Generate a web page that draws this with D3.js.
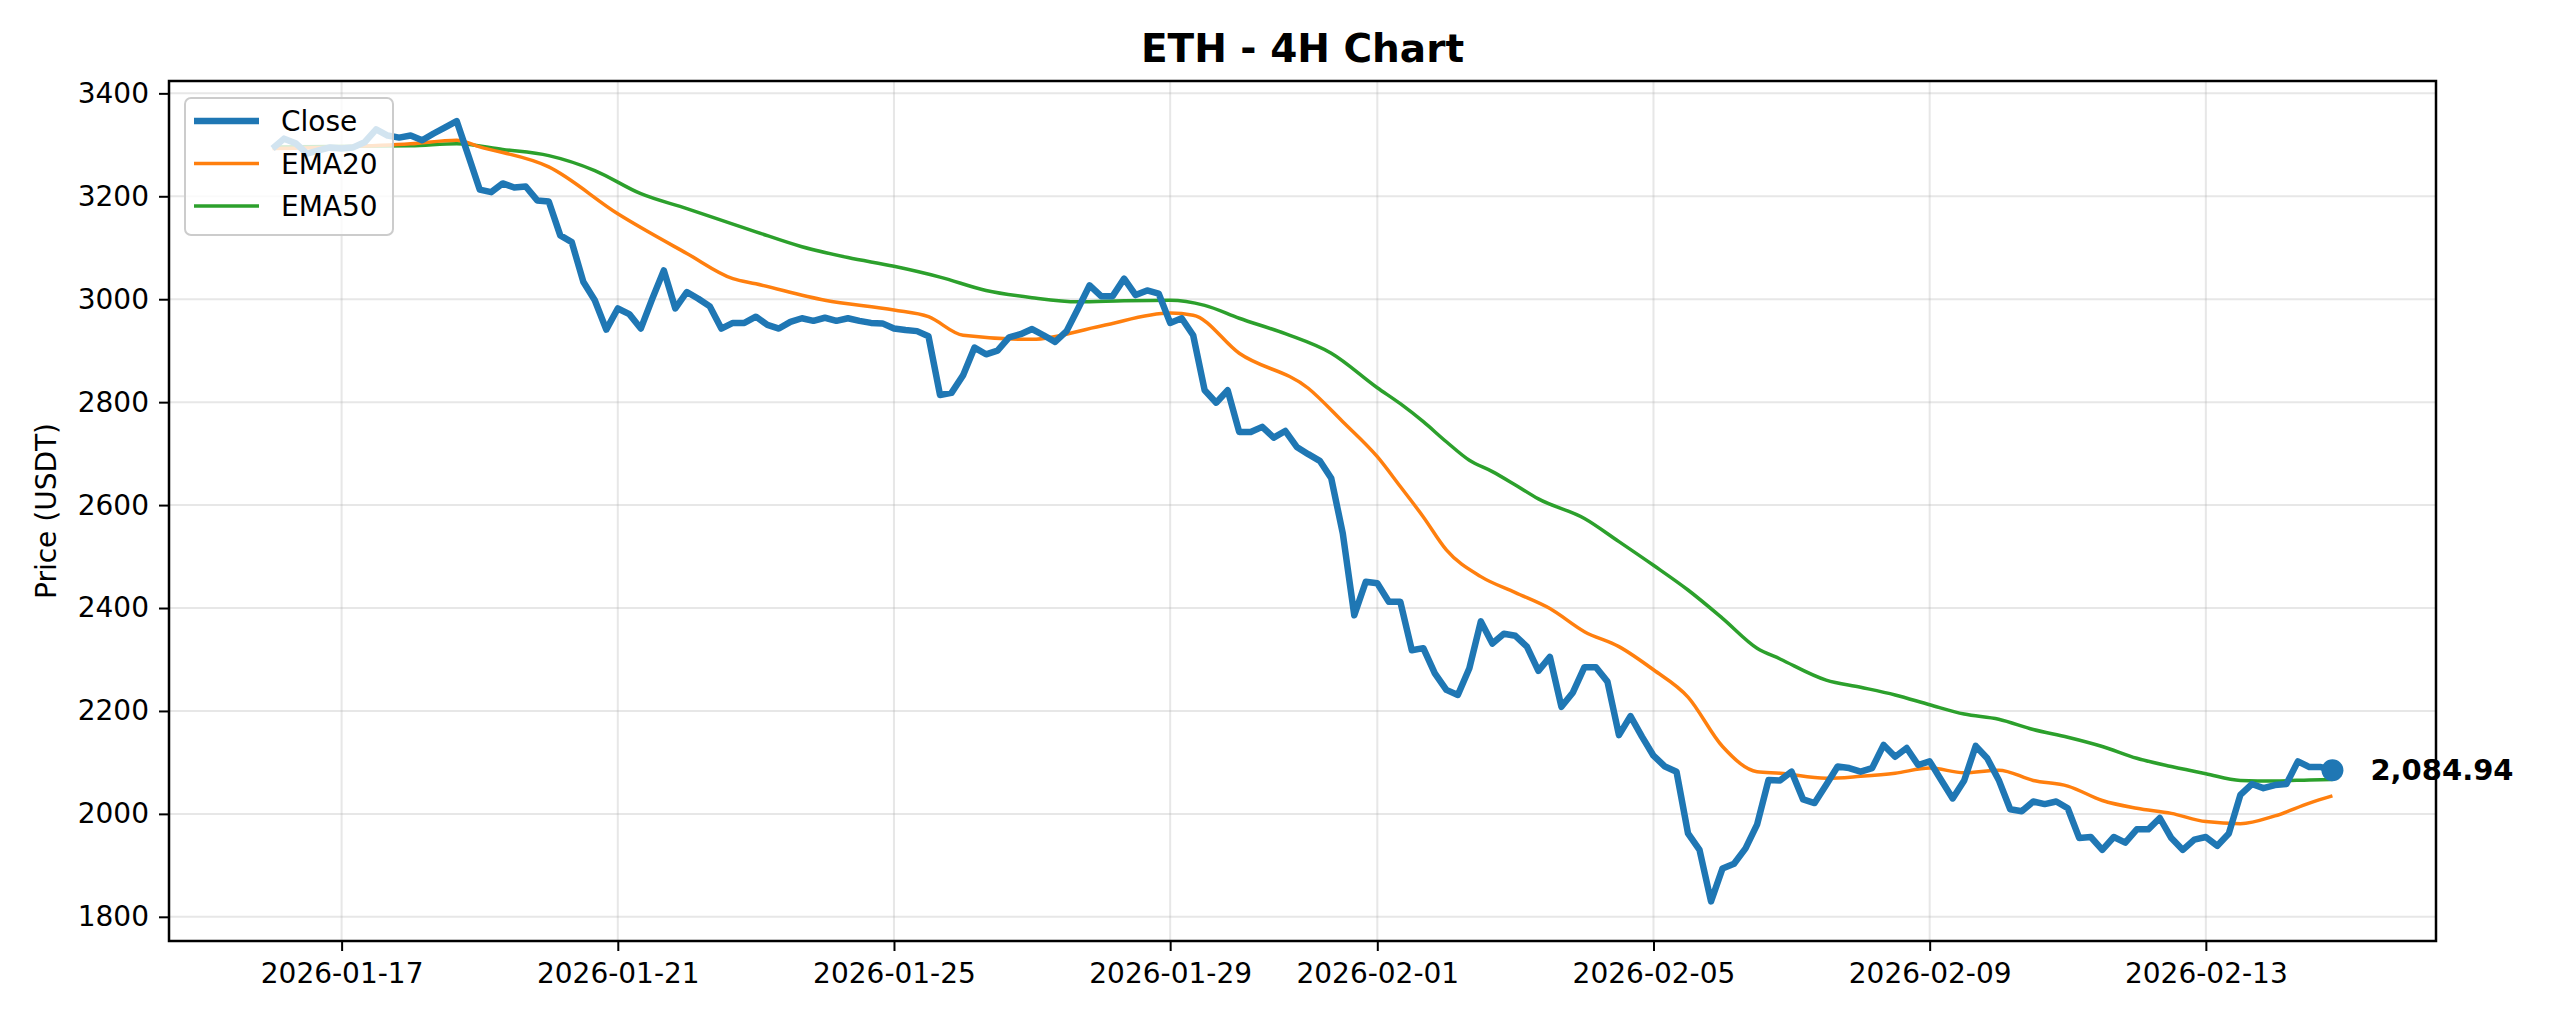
<!DOCTYPE html>
<html>
<head>
<meta charset="utf-8">
<script src="https://cdn.jsdelivr.net/npm/d3@7"></script>
<style>
  body { margin: 0; background: #fff; }
  text { font-family: "DejaVu Sans", sans-serif; }
</style>
</head>
<body>
<div id="viz"></div>
<script>
// 4H closes, first bar 2026-01-16 00:00 UTC
const startTime = Date.UTC(2026, 0, 16, 0)
const stepHours = 4

const closes = [
  3293, 3312, 3303, 3283, 3289, 3295, 3293, 3295, 3305, 3330,
  3318, 3314, 3318, 3309, 3322, 3334, 3346, 3280, 3213, 3208,
  3225, 3217, 3219, 3192, 3190, 3124, 3111, 3034, 2998, 2941,
  2982, 2971, 2943, 3001, 3056, 2982, 3014, 3001, 2986, 2943,
  2954, 2954, 2966, 2950, 2943, 2956, 2963, 2958, 2964, 2958,
  2963, 2958, 2954, 2953, 2943, 2940, 2938, 2928, 2814, 2818,
  2852, 2906, 2893, 2900, 2926, 2932, 2942, 2930, 2917, 2938,
  2982, 3027, 3006, 3006, 3040, 3008, 3017, 3011, 2954, 2963,
  2930, 2823, 2799, 2823, 2742, 2742, 2752, 2731, 2744, 2713,
  2699, 2686, 2652, 2545, 2386, 2451, 2448, 2412, 2412, 2318,
  2322, 2273, 2241, 2231, 2283, 2374, 2331, 2350, 2346, 2325,
  2278, 2305, 2208, 2236, 2285, 2285, 2257, 2153, 2190, 2150,
  2113, 2092, 2082, 1962, 1930, 1830, 1894, 1903, 1933, 1979,
  2066, 2065, 2082, 2028, 2021, 2056, 2092, 2089, 2082, 2089,
  2134, 2111, 2128, 2095, 2102, 2066, 2030, 2065, 2132, 2108,
  2066, 2009, 2005, 2024, 2019, 2024, 2011, 1953, 1955, 1930,
  1955, 1944, 1970, 1970, 1992, 1953, 1930, 1950, 1955, 1938,
  1962, 2037, 2058, 2050, 2056, 2058, 2102, 2091, 2091, 2084.94
]

// [bar index, value]
const ema20 = [
  [0, 3293], [6, 3296], [12, 3302], [16, 3309], [18, 3296], [24, 3257],
  [30, 3166], [36, 3089], [40, 3040], [42, 3030], [48, 2998], [54, 2979],
  [57, 2966], [60, 2930], [66, 2922], [72, 2948], [78, 2973], [80, 2969],
  [84, 2895], [90, 2827], [93, 2762], [96, 2694], [98, 2636], [100, 2577],
  [102, 2513], [105, 2461], [108, 2430], [111, 2399], [114, 2354], [117, 2325],
  [120, 2280], [123, 2227], [126, 2131], [129, 2082], [131, 2079], [135, 2069],
  [138, 2073], [141, 2079], [144, 2089], [147, 2080], [150, 2085], [153, 2065],
  [156, 2054], [159, 2026], [162, 2011], [165, 2001], [168, 1985], [171, 1981],
  [174, 1996], [177, 2021], [179, 2035]
]

const ema50 = [
  [0, 3296], [12, 3298], [16, 3302], [20, 3291], [24, 3279], [28, 3250],
  [32, 3205], [36, 3176], [40, 3146], [42, 3131], [46, 3102], [50, 3081],
  [54, 3064], [58, 3043], [62, 3017], [66, 3003], [70, 2995], [74, 2997],
  [78, 2998], [81, 2988], [84, 2963], [88, 2933], [92, 2895], [96, 2828],
  [98, 2797], [100, 2762], [102, 2723], [104, 2687], [106, 2665], [108, 2639],
  [110, 2612], [114, 2574], [117, 2529], [120, 2483], [123, 2435], [126, 2380],
  [129, 2322], [131, 2301], [135, 2260], [138, 2246], [141, 2231], [144, 2212],
  [147, 2194], [150, 2184], [153, 2164], [156, 2149], [159, 2131], [162, 2108],
  [165, 2092], [168, 2078], [171, 2065], [174, 2064], [177, 2066], [179, 2067]
]

const xTickDates = ["2026-01-17", "2026-01-21", "2026-01-25", "2026-01-29",
                    "2026-02-01", "2026-02-05", "2026-02-09", "2026-02-13"]
const yTicks = [1800, 2000, 2200, 2400, 2600, 2800, 3000, 3200, 3400]

const W = 2560, H = 1024
const m = { left: 169, right: 2436, top: 81, bottom: 941 }

const barTime = i => new Date(startTime + i * stepHours * 3600 * 1000)

let svg = d3.select("#viz").append("svg")
    .attr("width", W).attr("height", H)

let x = d3.scaleUtc()
    .domain([new Date(Date.UTC(2026, 0, 14, 12)), new Date(Date.UTC(2026, 1, 16, 8))])
    .range([m.left, m.right])
let y = d3.scaleLinear().domain([1753, 3424]).range([m.bottom, m.top])

let tickDates = xTickDates.map(s => new Date(s + "T00:00:00Z"))

// grid
let grid = svg.append("g").attr("stroke", "#b0b0b0").attr("stroke-opacity", 0.3).attr("stroke-width", 2)
tickDates.forEach(d => grid.append("line")
    .attr("x1", x(d)).attr("x2", x(d)).attr("y1", m.top).attr("y2", m.bottom))
yTicks.forEach(v => grid.append("line")
    .attr("x1", m.left).attr("x2", m.right).attr("y1", y(v)).attr("y2", y(v)))

// lines
let lineIdx = d3.line().x(d => x(barTime(d[0]))).y(d => y(d[1])).curve(d3.curveMonotoneX)
svg.append("path").datum(ema50).attr("d", lineIdx)
    .attr("fill", "none").attr("stroke", "#2ca02c").attr("stroke-width", 3.5)
svg.append("path").datum(ema20).attr("d", lineIdx)
    .attr("fill", "none").attr("stroke", "#ff7f0e").attr("stroke-width", 3.5)
svg.append("path").datum(closes)
    .attr("d", d3.line().x((d, i) => x(barTime(i))).y(d => y(d)))
    .attr("fill", "none").attr("stroke", "#1f77b4").attr("stroke-width", 6.5)
    .attr("stroke-linejoin", "round")

// last price marker
let last = closes.length - 1
svg.append("circle")
    .attr("cx", x(barTime(last))).attr("cy", y(closes[last])).attr("r", 11)
    .attr("fill", "#1f77b4")
svg.append("text")
    .attr("x", x(barTime(last)) + 38).attr("y", y(closes[last]) + 10)
    .attr("font-size", 29).attr("font-weight", "bold")
    .text(d3.format(",.2f")(closes[last]))

// axes
let xAxis = svg.append("g").attr("transform", `translate(0,${m.bottom})`)
    .call(d3.axisBottom(x).tickValues(tickDates).tickFormat(d3.utcFormat("%Y-%m-%d"))
        .tickSizeOuter(0).tickSize(10).tickPadding(12))
let yAxis = svg.append("g").attr("transform", `translate(${m.left},0)`)
    .call(d3.axisLeft(y).tickValues(yTicks).tickFormat(d3.format("d"))
        .tickSizeOuter(0).tickSize(10).tickPadding(10))
;[xAxis, yAxis].forEach(a => {
    a.selectAll("text").attr("font-size", 28).attr("font-family", "DejaVu Sans").attr("fill", "#000")
    a.selectAll("line").attr("stroke", "#000").attr("stroke-width", 2)
    a.select(".domain").remove()
})

svg.append("rect")
    .attr("x", m.left).attr("y", m.top)
    .attr("width", m.right - m.left).attr("height", m.bottom - m.top)
    .attr("fill", "none").attr("stroke", "#000").attr("stroke-width", 2.5)

svg.append("text")
    .attr("x", (m.left + m.right) / 2).attr("y", 62)
    .attr("text-anchor", "middle").attr("font-size", 39).attr("font-weight", "bold")
    .text("ETH - 4H Chart")

svg.append("text")
    .attr("transform", `translate(56,${(m.top + m.bottom) / 2}) rotate(-90)`)
    .attr("text-anchor", "middle").attr("font-size", 28)
    .text("Price (USDT)")

// legend
let legend = svg.append("g")
legend.append("rect")
    .attr("x", 185).attr("y", 98).attr("width", 208).attr("height", 137).attr("rx", 6)
    .attr("fill", "#fff").attr("fill-opacity", 0.8).attr("stroke", "#cccccc").attr("stroke-width", 2)
let entries = [["Close", "#1f77b4", 6.5], ["EMA20", "#ff7f0e", 3.5], ["EMA50", "#2ca02c", 3.5]]
entries.forEach((e, k) => {
    let cy = 121 + k * 42.5
    legend.append("line").attr("x1", 194).attr("x2", 259).attr("y1", cy).attr("y2", cy)
        .attr("stroke", e[1]).attr("stroke-width", e[2])
    legend.append("text").attr("x", 281).attr("y", cy + 10).attr("font-size", 28).text(e[0])
})
</script>
</body>
</html>
